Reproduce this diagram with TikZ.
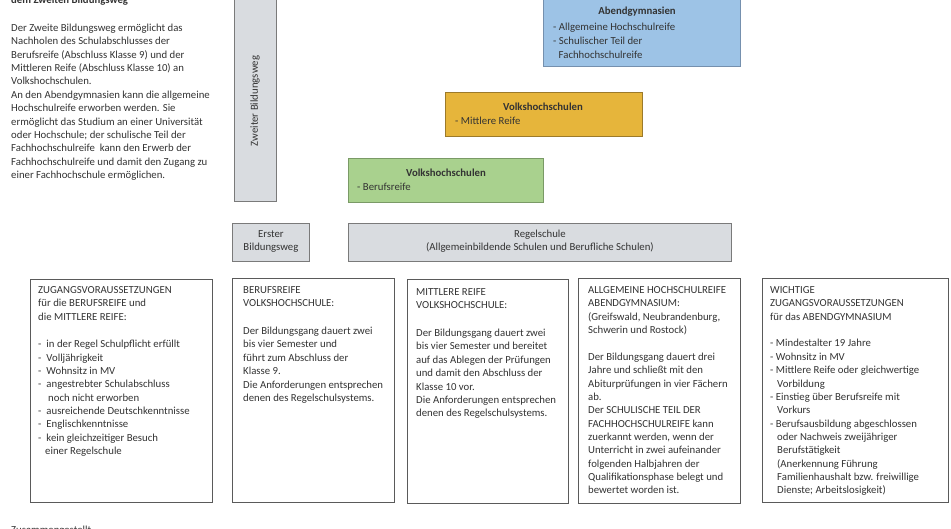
\documentclass[tikz,border=0pt]{standalone}
\usepackage{fontspec}
\setmainfont{Carlito}
\definecolor{txt}{HTML}{333333}
\definecolor{graybg}{HTML}{D9DCE0}
\definecolor{grayline}{HTML}{7A7A7A}
\definecolor{bluebg}{HTML}{9DC3E6}
\definecolor{blueline}{HTML}{7590AE}
\definecolor{orangebg}{HTML}{E6B53B}
\definecolor{orangeline}{HTML}{9C7A2A}
\definecolor{greenbg}{HTML}{A9D18E}
\definecolor{greenline}{HTML}{7A9A66}
\definecolor{boxline}{HTML}{5A5A5A}
\tikzset{
  base font/.style={font=\fontsize{10.75}{13.35}\selectfont, text=txt},
  txtblock/.style={base font, anchor=north west, inner sep=0pt, align=left},
  infobox/.style={draw=boxline, line width=0.9pt, fill=white},
  graybox/.style={draw=grayline, line width=0.9pt, fill=graybg},
  bluebox/.style={draw=blueline, line width=0.9pt, fill=bluebg},
  orangebox/.style={draw=orangeline, line width=0.9pt, fill=orangebg},
  greenbox/.style={draw=greenline, line width=0.9pt, fill=greenbg},
  centertxt/.style={base font, inner sep=0pt, align=center},
  boldtxt/.style={centertxt, font=\fontsize{10.75}{13.35}\selectfont\bfseries},
}
\newcommand{\ds}{-\hspace{5pt}}
\newcommand{\dq}{-\hspace{2.5pt}}
\begin{document}
\begin{tikzpicture}[x=1pt,y=-1pt]
\useasboundingbox (0,0) rectangle (951,528);
\clip (0,0) rectangle (951,528);
\fill[white] (0,0) rectangle (951,528);

% top-left text
\node[base font, anchor=base west, inner sep=0pt, font=\fontsize{10.75}{13.35}\selectfont\bfseries] (head) at (11,3.5) {dem Zweiten Bildungsweg};
\node[txtblock] (intro) at (11,22) {\strut Der Zweite Bildungsweg ermöglicht das\\
Nachholen des Schulabschlusses der\\
Berufsreife (Abschluss Klasse 9) und der\\
Mittleren Reife (Abschluss Klasse 10) an\\
Volkshochschulen.\\
An den Abendgymnasien kann die allgemeine\\
Hochschulreife erworben werden. Sie\\
ermöglicht das Studium an einer Universität\\
oder Hochschule; der schulische Teil der\\
Fachhochschulreife\ \ kann den Erwerb der\\
Fachhochschulreife und damit den Zugang zu\\
einer Fachhochschule ermöglichen.};
\node[base font, anchor=base west, inner sep=0pt] (foot) at (11,533) {Zusammengestellt};

% Zweiter Bildungsweg bar
\node[graybox, minimum width=42pt, minimum height=210pt, inner sep=0pt] (zweiter) at (255,96) {};
\node[centertxt, rotate=90] (zweitertxt) at (255,101) {Zweiter Bildungsweg};

% Abendgymnasien
\node[bluebox, minimum width=197pt, minimum height=76pt, inner sep=0pt, anchor=south west] (abend) at (543,66.5) {};
\node[boldtxt] (abendt) at (637,12) {Abendgymnasien};
\node[txtblock] (abendl) at (553,20.5) {\strut\dq Allgemeine Hochschulreife\\[1.4pt]
\dq Schulischer Teil der\\
\hspace{5.5pt}Fachhochschulreife};

% Volkshochschulen Mittlere Reife
\node[orangebox, minimum width=197pt, minimum height=44pt, inner sep=0pt, anchor=north west] (vhsm) at (445,92) {};
\node[boldtxt] (vhsmt) at (543,107) {Volkshochschulen};
\node[txtblock] (vhsml) at (455,115) {\strut\dq Mittlere Reife};

% Volkshochschulen Berufsreife
\node[greenbox, minimum width=195pt, minimum height=44pt, inner sep=0pt, anchor=north west] (vhsb) at (348,158) {};
\node[boldtxt] (vhsbt) at (446,173) {Volkshochschulen};
\node[txtblock] (vhsbl) at (357,181) {\strut\dq Berufsreife};

% Erster Bildungsweg / Regelschule
\node[graybox, minimum width=77pt, minimum height=38pt, inner sep=0pt, anchor=north west] (erster) at (232,223) {};
\node[centertxt] (erstert) at ([yshift=1pt]erster.center) {Erster\\Bildungsweg};
\node[graybox, minimum width=383pt, minimum height=38pt, inner sep=0pt, anchor=north west] (regel) at (348,223) {};
\node[centertxt] (regelt) at ([yshift=1pt]regel.center) {Regelschule\\(Allgemeinbildende Schulen und Berufliche Schulen)};

% bottom boxes
\node[infobox, minimum width=182pt, minimum height=223pt, inner sep=0pt, anchor=north west] (b1) at (30,279) {};
\node[txtblock] (b1t) at (38,284) {\strut ZUGANGSVORAUSSETZUNGEN\\
für die BERUFSREIFE und\\
die MITTLERE REIFE:\\
\\[0.8pt]
\ds in der Regel Schulpflicht erfüllt\\
\ds Volljährigkeit\\
\ds Wohnsitz in MV\\
\ds angestrebter Schulabschluss\\
\hspace{10pt}noch nicht erworben\\
\ds ausreichende Deutschkenntnisse\\
\ds Englischkenntnisse\\
\ds kein gleichzeitiger Besuch\\
\hspace{7pt}einer Regelschule};

\node[infobox, minimum width=162pt, minimum height=224pt, inner sep=0pt, anchor=north west] (b2) at (232,278) {};
\node[txtblock] (b2t) at (243,284) {\strut BERUFSREIFE\\
VOLKSHOCHSCHULE:\\
\\[1pt]
Der Bildungsgang dauert zwei\\
bis vier Semester und\\
führt zum Abschluss der\\
Klasse 9.\\
Die Anforderungen entsprechen\\
denen des Regelschulsystems.};

\node[infobox, minimum width=161pt, minimum height=224pt, inner sep=0pt, anchor=north west] (b3) at (407,279) {};
\node[txtblock] (b3t) at (416,286) {\strut MITTLERE REIFE\\
VOLKSHOCHSCHULE:\\
\\[1pt]
Der Bildungsgang dauert zwei\\
bis vier Semester und bereitet\\
auf das Ablegen der Prüfungen\\
und damit den Abschluss der\\
Klasse 10 vor.\\
Die Anforderungen entsprechen\\
denen des Regelschulsystems.};

\node[infobox, minimum width=162pt, minimum height=225pt, inner sep=0pt, anchor=north west] (b4) at (578,278) {};
\node[txtblock] (b4t) at (588,284) {\strut ALLGEMEINE HOCHSCHULREIFE\\
ABENDGYMNASIUM:\\
(Greifswald, Neubrandenburg,\\
Schwerin und Rostock)\\
\\
Der Bildungsgang dauert drei\\
Jahre und schließt mit den\\
Abiturprüfungen in vier Fächern\\
ab.\\
Der SCHULISCHE TEIL DER\\
FACHHOCHSCHULREIFE kann\\
zuerkannt werden, wenn der\\
Unterricht in zwei aufeinander\\
folgenden Halbjahren der\\
Qualifikationsphase belegt und\\
bewertet worden ist.};

\node[infobox, minimum width=186pt, minimum height=224pt, inner sep=0pt, anchor=north west] (b5) at (762,278) {};
\node[txtblock] (b5t) at (770,284) {\strut WICHTIGE\\
ZUGANGSVORAUSSETZUNGEN\\
für das ABENDGYMNASIUM\\
\\
\dq Mindestalter 19 Jahre\\
\dq Wohnsitz in MV\\
\dq Mittlere Reife oder gleichwertige\\
\hspace{7pt}Vorbildung\\
\dq Einstieg über Berufsreife mit\\
\hspace{7pt}Vorkurs\\
\dq Berufsausbildung abgeschlossen\\
\hspace{7pt}oder Nachweis zweijähriger\\
\hspace{7pt}Berufstätigkeit\\
\hspace{7pt}(Anerkennung Führung\\
\hspace{7pt}Familienhaushalt bzw. freiwillige\\
\hspace{7pt}Dienste; Arbeitslosigkeit)};
\end{tikzpicture}
\end{document}
